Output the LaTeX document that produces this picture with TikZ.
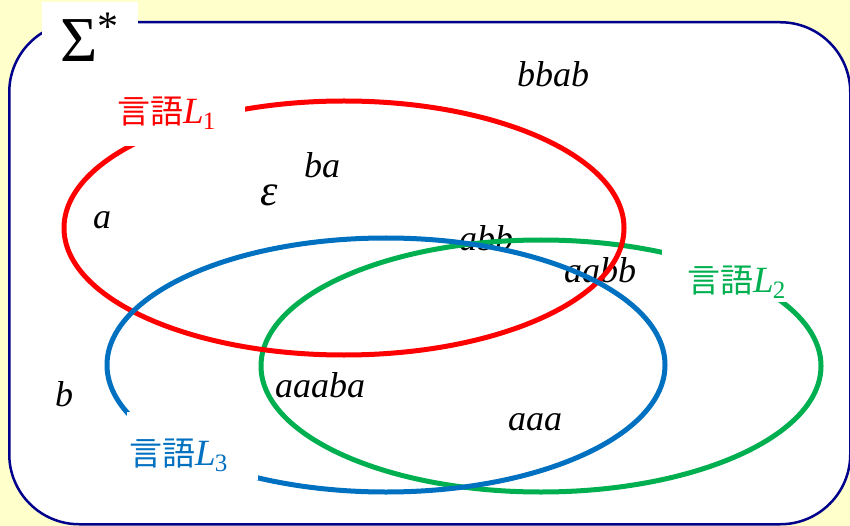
\documentclass[tikz,border=0pt]{standalone}
\usepackage{fontspec}
\setmainfont{Liberation Serif}
\newfontfamily\cjk{Noto Sans CJK JP}
\definecolor{bgyellow}{HTML}{FFFFCC}
\definecolor{navyline}{RGB}{0,0,140}
\definecolor{lred}{HTML}{FF0000}
\definecolor{lblue}{HTML}{0070C0}
\definecolor{lgreen}{HTML}{00B050}
\newcommand{\lang}[1]{{\cjk\fontsize{33}{33}\selectfont 言語}{\fontsize{37}{37}\selectfont\itshape L}\kern-1pt\raisebox{-6pt}{\fontsize{25}{25}\selectfont #1}}
\begin{document}
\begin{tikzpicture}[x=1pt,y=-1pt,
  word/.style={font=\fontsize{36}{36}\selectfont\itshape, inner sep=0pt, anchor=base},
  langlabel/.style={inner sep=0pt, anchor=base west},
  ell/.style={line width=5pt}]
\fill[bgyellow] (0,0) rectangle (850,526);
\useasboundingbox (0,0) rectangle (850,526);
% universe
\node[draw=navyline, line width=2.5pt, fill=white, rounded corners=70pt,
      minimum width=841pt, minimum height=502pt, anchor=north west, inner sep=0pt] (univ) at (8,21) {};
% words
\node[word] (w-bbab) at (553,87) {bbab};
\node[word] (w-ba) at (322,178) {ba};
\node[word, font=\fontsize{44}{44}\selectfont\itshape] (w-eps) at (269,206) {ε};
\node[word] (w-a) at (102,229) {a};
\node[word] (w-abb) at (486,251) {abb};
\node[word] (w-aabb) at (600,282) {aabb};
\node[word] (w-b) at (64,406) {b};
\node[word] (w-aaaba) at (320,397) {aaaba};
\node[word] (w-aaa) at (535,430) {aaa};
% ellipses
\draw[ell, lgreen] (541,366) ellipse [x radius=280pt, y radius=126pt];
\draw[ell, lred] (344,228) ellipse [x radius=280pt, y radius=127pt];
\draw[ell, lblue] (386,365) ellipse [x radius=279pt, y radius=127pt];
% label backgrounds
\fill[white] (42,2) rectangle (138,60);
\fill[white] (112,84) rectangle (245,146);
\fill[white] (662,248) rectangle (795,302);
\fill[white] (127,412) rectangle (258,480);
% labels
\node[langlabel] (sigma) at (60,62) {\fontsize{64}{64}\selectfont Σ\raisebox{21pt}{\fontsize{42}{42}\selectfont *}};
\node[langlabel, text=lred] (L1) at (117,124) {\lang{1}};
\node[langlabel, text=lgreen] (L2) at (687,292) {\lang{2}};
\node[langlabel, text=lblue] (L3) at (129,465) {\lang{3}};
\end{tikzpicture}
\end{document}
